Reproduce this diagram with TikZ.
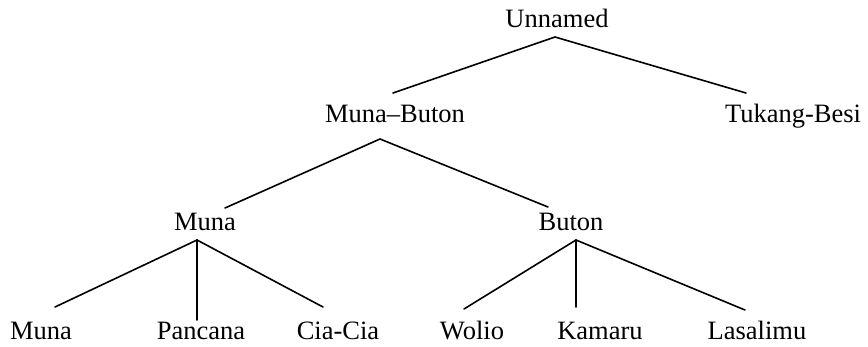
\documentclass[tikz,border=0pt]{standalone}
\usepackage{fontspec}
\setmainfont{Liberation Serif}
\tikzset{
  lbl/.style={anchor=base, inner sep=0pt, font=\fontsize{26.5}{30}\selectfont},
  branch/.style={line width=1.6pt, line cap=round}
}
\begin{document}
\begin{tikzpicture}[x=1pt,y=-1pt]
\useasboundingbox (0,0) rectangle (868,346);
% labels
\node[lbl] (un) at (557,27) {Unnamed};
\node[lbl] (mb) at (395,122) {Muna--Buton};
\node[lbl] (tb) at (793,122) {Tukang-Besi};
\node[lbl] (mu) at (205,230) {Muna};
\node[lbl] (bu) at (571,230) {Buton};
\node[lbl] (m2) at (41,339) {Muna};
\node[lbl] (pa) at (201,339) {Pancana};
\node[lbl] (cc) at (338,339) {Cia-Cia};
\node[lbl] (wo) at (472,339) {Wolio};
\node[lbl] (ka) at (600,339) {Kamaru};
\node[lbl] (la) at (757,339) {Lasalimu};
% branch points
\coordinate (unA) at (555,37);
\coordinate (mbT) at (393,93);
\coordinate (tbT) at (746,93);
\coordinate (mbA) at (380,139);
\coordinate (muT) at (225,208);
\coordinate (buT) at (548,207);
\coordinate (muA) at (197,240);
\coordinate (m2T) at (55,307);
\coordinate (paT) at (197,320);
\coordinate (ccT) at (323,307);
\coordinate (buA) at (576,240);
\coordinate (woT) at (464,309);
\coordinate (kaT) at (576,307);
\coordinate (laT) at (745,310);
% branches
\draw[branch] (mbT) -- (unA) -- (tbT);
\draw[branch] (muT) -- (mbA) -- (buT);
\draw[branch] (m2T) -- (muA) -- (ccT);
\draw[branch] (muA) -- (paT);
\draw[branch] (woT) -- (buA) -- (laT);
\draw[branch] (buA) -- (kaT);
\end{tikzpicture}
\end{document}
